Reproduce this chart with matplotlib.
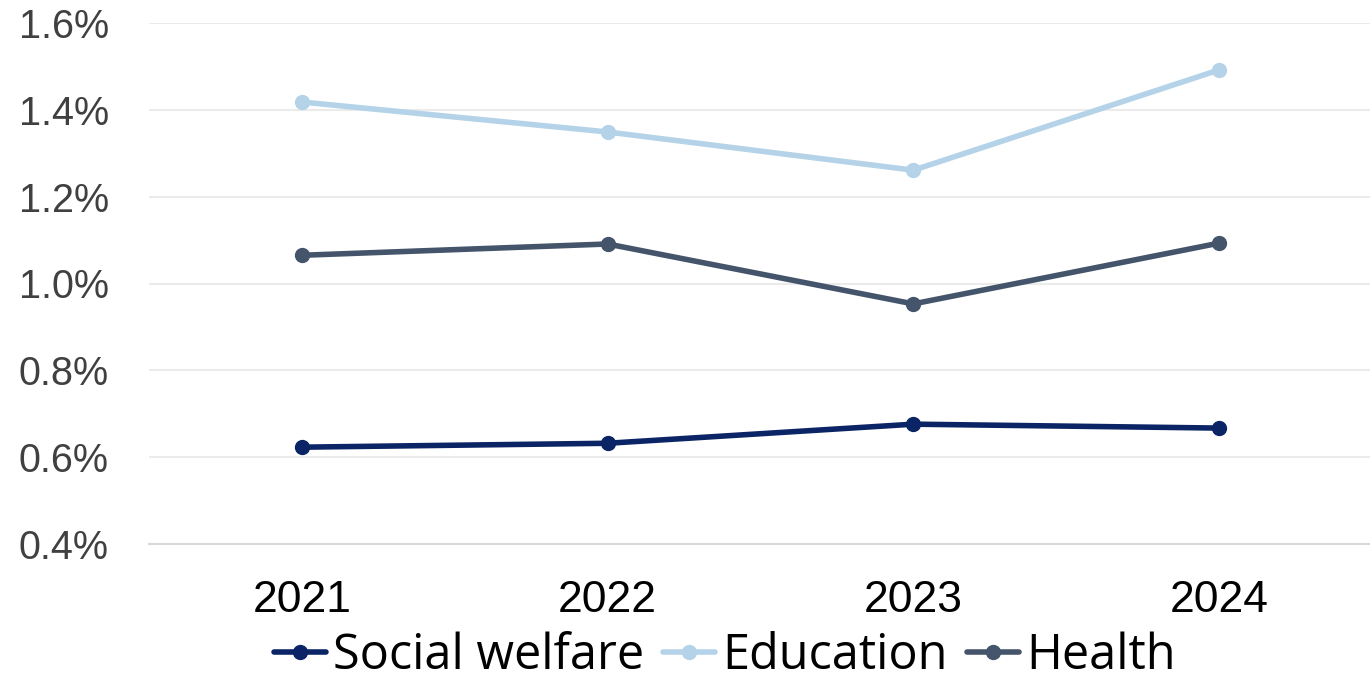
import matplotlib
matplotlib.use("Agg")
import matplotlib.pyplot as plt
from matplotlib.ticker import FuncFormatter

years = ["2021", "2022", "2023", "2024"]
social_welfare = [0.623, 0.632, 0.676, 0.667]
education = [1.418, 1.349, 1.261, 1.492]
health = [1.065, 1.091, 0.953, 1.093]
y_ticks = [0.4, 0.6, 0.8, 1.0, 1.2, 1.4, 1.6]

fig = plt.figure(figsize=(13.7, 6.81), dpi=100)
ax = fig.add_axes([149 / 1370, 1 - 544 / 681, (1372 - 149) / 1370, (544 - 23) / 681])

x = list(range(len(years)))
series = [
    ("Social welfare", social_welfare, "#0b2466"),
    ("Education", education, "#b4d3e8"),
    ("Health", health, "#44546a"),
]
for name, vals, color in series:
    ax.plot(x, vals, color=color, lw=4, marker="o", ms=10, label=name,
            solid_capstyle="round")

ax.set_xlim(-0.5, len(years) - 0.5)
ax.set_ylim(0.4, 1.6)
ax.set_yticks(y_ticks)
ax.yaxis.set_major_formatter(FuncFormatter(lambda v, _: f"{v:.1f}%"))
ax.set_xticks(x)
ax.set_xticklabels(years)

ax.grid(axis="y", color="#ebebeb", lw=1.5)
ax.set_axisbelow(True)
for s in ["top", "right", "left"]:
    ax.spines[s].set_visible(False)
ax.spines["bottom"].set_color("#d9d9d9")
ax.spines["bottom"].set_linewidth(1.5)
ax.tick_params(length=0)
for lab in ax.get_yticklabels():
    lab.set_fontfamily("Liberation Sans")
    lab.set_fontsize(28.5)
    lab.set_color("#404040")
for lab in ax.get_xticklabels():
    lab.set_fontfamily("Liberation Sans")
    lab.set_fontsize(32)
    lab.set_color("#000000")
ax.tick_params(axis="y", pad=29)
ax.tick_params(axis="x", pad=26)

leg = fig.legend(loc="center", bbox_to_anchor=(725 / 1370, 1 - 656 / 681), ncol=3,
                 frameon=False, prop={"family": "Open Sans", "size": 35},
                 handlelength=1.07, handletextpad=0.15, columnspacing=0.39,
                 borderpad=0, borderaxespad=0)

fig.savefig("out.png", dpi=100)
